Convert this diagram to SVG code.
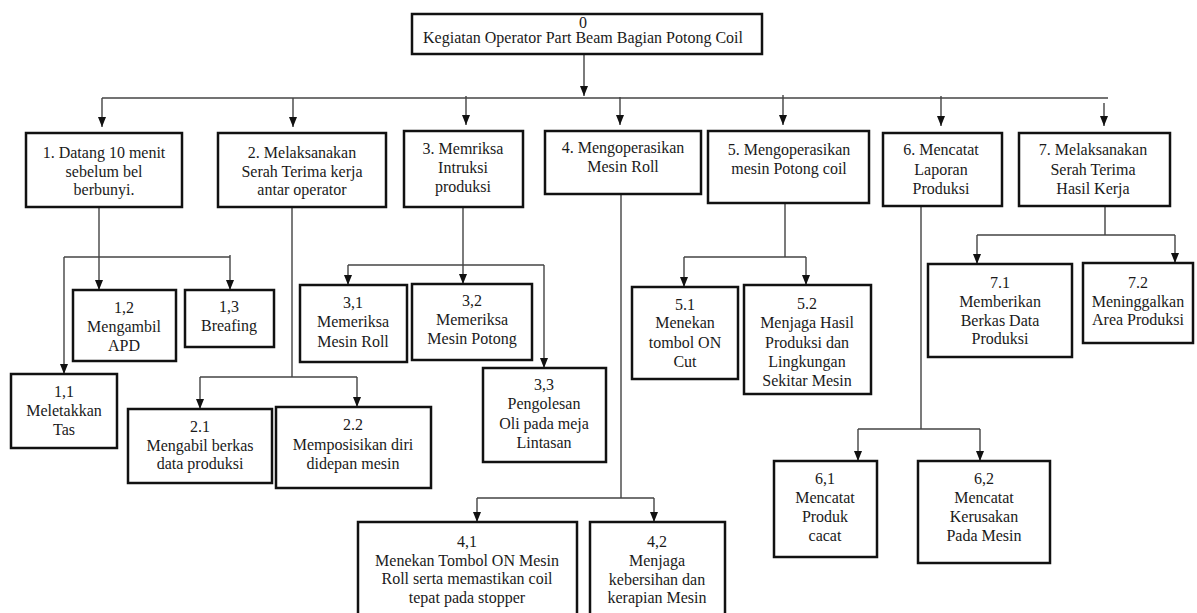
<svg xmlns="http://www.w3.org/2000/svg" width="1197" height="613" viewBox="0 0 1197 613">
<style>
rect.b{fill:#fff;stroke:#111;stroke-width:2.5}
text{font-family:"Liberation Serif","Times New Roman",serif;font-size:16px;fill:#1a1a1a;text-anchor:middle}
#connectors path{fill:none;stroke:#444;stroke-width:1.4}
#connectors path.a{marker-end:url(#arr)}
</style>
<defs>
<marker id="arr" viewBox="0 0 10 8" refX="10" refY="4" markerWidth="10" markerHeight="8" markerUnits="userSpaceOnUse" orient="auto">
<path d="M0,0 L10,4 L0,8 z" fill="#111"/>
</marker>
</defs>
<rect width="1197" height="613" fill="#fff"/>
<g id="connectors">
<path class="a" d="M584,54 V96"/>
<path d="M102,98 H1108"/>
<path class="a" d="M102,98 V127"/>
<path class="a" d="M293,98 V127"/>
<path class="a" d="M466,96 V125"/>
<path class="a" d="M620,97 V125"/>
<path class="a" d="M783,95 V125"/>
<path class="a" d="M941,96 V126"/>
<path class="a" d="M1104,103 V126"/>
<path class="a" d="M99,207 V290"/>
<path d="M64,257 H230"/>
<path class="a" d="M64,257 V374"/>
<path d="M64,374 V390"/>
<path class="a" d="M230,255 V290"/>
<path d="M292,207 V377 M200,377 H357"/>
<path class="a" d="M200,377 V409"/>
<path class="a" d="M357,377 V407"/>
<path class="a" d="M463,207 V284"/>
<path d="M348,265 H544"/>
<path class="a" d="M348,265 V285"/>
<path class="a" d="M544,265 V368"/>
<path d="M621,194 V498 M477,498 H654"/>
<path class="a" d="M477,498 V522"/>
<path class="a" d="M654,498 V522"/>
<path d="M785,203 V257 M684,257 H806"/>
<path class="a" d="M684,257 V287"/>
<path class="a" d="M806,257 V285"/>
<path d="M921,206 V429 M858,429 H980"/>
<path class="a" d="M858,429 V461"/>
<path class="a" d="M980,429 V461"/>
<path d="M1105,206 V235 M977,235 H1175"/>
<path class="a" d="M977,235 V264"/>
<path class="a" d="M1175,235 V263"/>
</g>
<g id="n0"><rect class="b" x="412" y="14" width="350" height="40"/><text x="583" y="28">0</text><text x="583" y="43">Kegiatan Operator Part Beam Bagian Potong Coil</text></g>
<g id="n1"><rect class="b" x="26" y="133" width="156" height="74"/><text x="104" y="158">1. Datang 10 menit</text><text x="104" y="177">sebelum bel</text><text x="104" y="195">berbunyi.</text></g>
<g id="n2"><rect class="b" x="218" y="133" width="168" height="74"/><text x="302" y="158">2. Melaksanakan</text><text x="302" y="177">Serah Terima kerja</text><text x="302" y="195">antar operator</text></g>
<g id="n3"><rect class="b" x="404" y="131" width="119" height="76"/><text x="463" y="154">3. Memriksa</text><text x="463" y="173">Intruksi</text><text x="463" y="192">produksi</text></g>
<g id="n4"><rect class="b" x="545" y="131" width="156" height="63"/><text x="623" y="153">4. Mengoperasikan</text><text x="623" y="172">Mesin Roll</text></g>
<g id="n5"><rect class="b" x="708" y="131" width="161" height="72"/><text x="789" y="155">5. Mengoperasikan</text><text x="789" y="174">mesin Potong coil</text></g>
<g id="n6"><rect class="b" x="883" y="133" width="119" height="73"/><text x="941" y="155">6. Mencatat</text><text x="941" y="175">Laporan</text><text x="941" y="194">Produksi</text></g>
<g id="n7"><rect class="b" x="1019" y="133" width="151" height="73"/><text x="1093" y="155">7. Melaksanakan</text><text x="1093" y="175">Serah Terima</text><text x="1093" y="194">Hasil Kerja</text></g>
<g id="n11"><rect class="b" x="11" y="374" width="106" height="74"/><text x="64" y="397">1,1</text><text x="64" y="416">Meletakkan</text><text x="64" y="435">Tas</text></g>
<g id="n12"><rect class="b" x="73" y="290" width="103" height="71"/><text x="124" y="313">1,2</text><text x="124" y="332">Mengambil</text><text x="124" y="351">APD</text></g>
<g id="n13"><rect class="b" x="185" y="290" width="89" height="57"/><text x="229" y="312">1,3</text><text x="229" y="331">Breafing</text></g>
<g id="n21"><rect class="b" x="128" y="409" width="144" height="74"/><text x="200" y="432">2.1</text><text x="200" y="451">Mengabil berkas</text><text x="200" y="469">data produksi</text></g>
<g id="n22"><rect class="b" x="276" y="407" width="155" height="81"/><text x="353" y="430">2.2</text><text x="353" y="450">Memposisikan diri</text><text x="353" y="469">didepan mesin</text></g>
<g id="n31"><rect class="b" x="300" y="285" width="107" height="77"/><text x="353" y="308">3,1</text><text x="353" y="327">Memeriksa</text><text x="353" y="347">Mesin Roll</text></g>
<g id="n32"><rect class="b" x="412" y="284" width="120" height="76"/><text x="472" y="306">3,2</text><text x="472" y="325">Memeriksa</text><text x="472" y="344">Mesin Potong</text></g>
<g id="n33"><rect class="b" x="483" y="368" width="123" height="94"/><text x="544" y="390">3,3</text><text x="544" y="409">Pengolesan</text><text x="544" y="429">Oli pada meja</text><text x="544" y="448">Lintasan</text></g>
<g id="n41"><rect class="b" x="358" y="522" width="219" height="100"/><text x="467" y="547">4,1</text><text x="467" y="566">Menekan Tombol ON Mesin</text><text x="467" y="584">Roll serta memastikan coil</text><text x="467" y="603">tepat pada stopper</text></g>
<g id="n42"><rect class="b" x="590" y="522" width="135" height="100"/><text x="657" y="547">4,2</text><text x="657" y="566">Menjaga</text><text x="657" y="585">kebersihan dan</text><text x="657" y="603">kerapian Mesin</text></g>
<g id="n51"><rect class="b" x="632" y="287" width="106" height="92"/><text x="685" y="310">5.1</text><text x="685" y="328">Menekan</text><text x="685" y="348">tombol ON</text><text x="685" y="367">Cut</text></g>
<g id="n52"><rect class="b" x="744" y="285" width="127" height="109"/><text x="807" y="309">5.2</text><text x="807" y="328">Menjaga Hasil</text><text x="807" y="348">Produksi dan</text><text x="807" y="367">Lingkungan</text><text x="807" y="386">Sekitar Mesin</text></g>
<g id="n61"><rect class="b" x="774" y="461" width="103" height="96"/><text x="825" y="484">6,1</text><text x="825" y="503">Mencatat</text><text x="825" y="522">Produk</text><text x="825" y="541">cacat</text></g>
<g id="n62"><rect class="b" x="918" y="461" width="132" height="102"/><text x="984" y="484">6,2</text><text x="984" y="503">Mencatat</text><text x="984" y="522">Kerusakan</text><text x="984" y="541">Pada Mesin</text></g>
<g id="n71"><rect class="b" x="928" y="264" width="144" height="93"/><text x="1000" y="288">7.1</text><text x="1000" y="307">Memberikan</text><text x="1000" y="326">Berkas Data</text><text x="1000" y="344">Produksi</text></g>
<g id="n72"><rect class="b" x="1083" y="263" width="110" height="80"/><text x="1138" y="288">7.2</text><text x="1138" y="307">Meninggalkan</text><text x="1138" y="325">Area Produksi</text></g>
</svg>
